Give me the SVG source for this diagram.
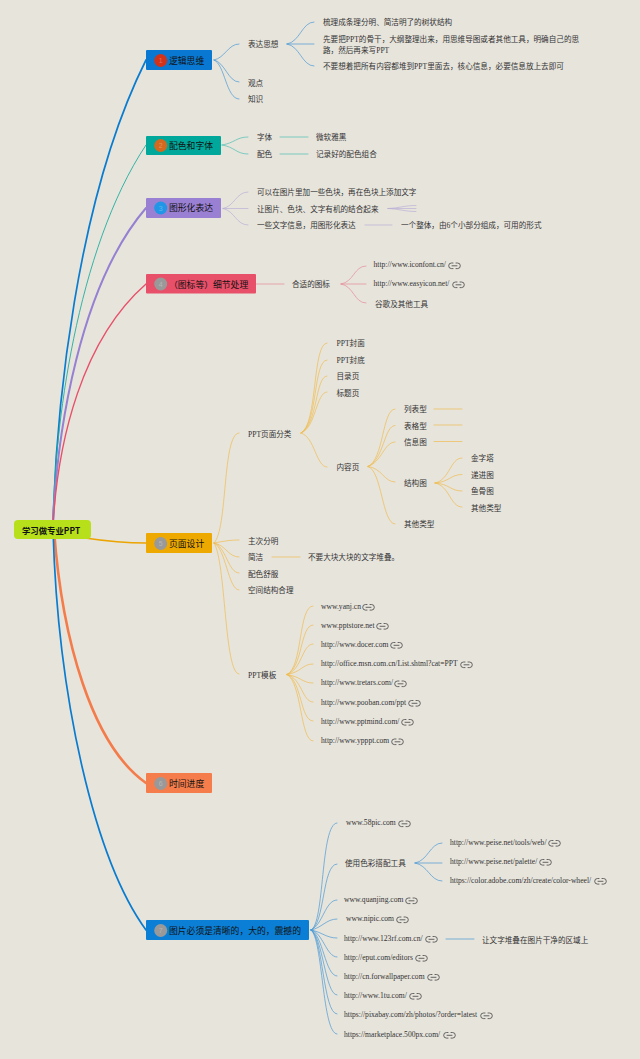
<svg xmlns="http://www.w3.org/2000/svg" width="640" height="1059" viewBox="0 0 640 1059">
<style>
text{font-family:"Liberation Serif","Noto Sans CJK SC",serif;fill:#333;font-size:7.6px;dominant-baseline:central}
.m{font-size:8.8px;fill:#111}
.r{font-size:8.4px;font-weight:bold;fill:#111;font-family:"Noto Sans CJK SC","Liberation Sans",sans-serif}
.n{font-size:7px;fill:#fff;fill-opacity:.3;text-anchor:middle;font-family:"Liberation Sans",sans-serif}
path{fill:none;stroke-linecap:round}
.b{stroke:#4a9ad4;stroke-width:.7}
.t{stroke:#4dbfb0;stroke-width:.7}
.p{stroke:#b9b0d6;stroke-width:.7}
.d{stroke:#e58a9a;stroke-width:.7}
.y{stroke:#efbc4f;stroke-width:.7}
.i{stroke:#444;stroke-width:.8}
</style>
<defs>
<g id="lk"><path class="i" d="M4,0H2.500a2.500,2.500 0 0 0 0,5.600H4M7,0H8.500a2.500,2.500 0 0 1 0,5.600H7M3,2.800H8"/></g>
</defs>
<rect width="640" height="1059" fill="#e7e4dc"/>
<g id="connectors">
<path d="M53,525C56,410 76,200 146,60" stroke="#0a7ccf" stroke-width="1.700"/>
<path d="M53,525C54,430 76,250 146,145" stroke="#1fae9f" stroke-width=".9"/>
<path d="M53,525C57,430 80,285 146,208" stroke="#9580d2" stroke-width="2"/>
<path d="M53,525C58,440 82,340 146,284" stroke="#e8506a" stroke-width="1.400"/>
<path d="M85,538C105,541 125,543 146,543" stroke="#eba400" stroke-width="1.700"/>
<path d="M54,530C62,640 92,745 146,783" stroke="#f47c4a" stroke-width="2.600"/>
<path d="M53,530C58,700 95,860 146,930" stroke="#0a7ccf" stroke-width="1.700"/>
<path class="b" d="M214,60C225,58 228,44 239,44M214,60C225,62 228,82 239,82M214,60C225,64 226,99 239,99"/>
<path class="b" d="M287,44C300,42 302,22 314,22M287,44H314M287,44C300,46 302,66 314,66"/>
<path class="b" d="M311,930C325,925 320,823 337,823M311,930C325,925 322,864 337,864M311,930C323,925 325,900 337,900M311,930C322,928 326,919 337,919M311,930C322,932 326,938 337,938M311,930C323,932 326,957 337,957M311,930C323,934 325,976 337,976M311,930C323,936 325,995 337,995M311,930C323,936 323,1014 337,1014M311,930C323,938 322,1034 337,1034"/>
<path class="b" d="M415,863C428,861 430,843 442,843M415,863H442M415,863C428,865 430,881 442,881M446,939H474"/>
<path class="t" d="M222,145C235,143 236,137 248,137M222,145C235,147 236,154 248,154M280,137H308M280,154H308"/>
<path class="p" d="M223,208.500C235,206 236,192 248,192M223,208.500H248M223,208.500C235,211 236,225 248,225M388,208.500C400,208 404,205.500 416,205.500M388,208.500H416M388,208.500C400,209 404,211.500 416,211.500M365,225H392"/>
<path class="d" d="M256,284H284M341,284C354,282 354,266 366,266M341,284H366M341,284C354,286 354,303 366,303"/>
<path class="y" d="M214,543C228,530 222,433 239,433M214,543C225,541 230,540 239,540M214,543C226,545 228,557 239,557M214,543C226,546 228,573 239,573M214,543C226,548 228,590 239,590M214,543C226,560 224,674 239,674"/>
<path class="y" d="M301,433C318,425 312,343 327,343M301,433C318,425 313,360 327,360M301,433C318,425 315,376 327,376M301,433C316,428 316,392 327,392M301,433C315,437 316,467 327,467"/>
<path class="y" d="M368,466.500C384,460 382,409 395,409M368,466.500C384,460 384,425.500 395,425.500M368,466.500C382,462 384,442 395,442M368,466.500C382,468 384,482 395,482M368,466.500C382,470 382,524 395,524M434,409H462M434,425H462M434,441.500H462"/>
<path class="y" d="M435,483C450,480 450,458 462,458M435,483C450,482 450,474.500 462,474.500M435,483C450,484 450,491 462,491M435,483C450,486 450,507 462,507M272,557H300"/>
<path class="y" d="M287,674.500C303,668 298,606 313,606M287,674.500C303,668 300,625 313,625M287,674.500C302,670 302,644 313,644M287,674.500C302,672 302,664 313,664M287,674.500C302,677 302,683 313,683M287,674.500C302,678 302,702 313,702M287,674.500C302,680 300,721 313,721M287,674.500C302,682 300,741 313,741"/>
</g>
<g id="root"><rect x="14" y="520" width="77" height="19" rx="4" fill="#b7e01a"/><text class="r" x="22" y="530">学习做专业PPT</text></g>
<g id="node1"><rect x="146" y="50" width="66" height="20" rx="1" fill="#0978d2"/><circle cx="160.700" cy="60.500" r="6.500" fill="#d1321a"/><text class="n" x="160.700" y="60.500">1</text><text class="m" x="169" y="60.500">逻辑思维</text></g>
<g id="node2"><rect x="146" y="136" width="75" height="19" rx="1" fill="#00a89c"/><circle cx="160.700" cy="145.500" r="6.500" fill="#d2691e"/><text class="n" x="160.700" y="145.500">2</text><text class="m" x="169" y="145.500">配色和字体</text></g>
<g id="node3"><rect x="146" y="198" width="75" height="20" rx="1" fill="#9a80d3"/><circle cx="160.700" cy="208" r="6.500" fill="#2196e6"/><text class="n" x="160.700" y="208">3</text><text class="m" x="169" y="208">图形化表达</text></g>
<g id="node4"><rect x="146" y="274" width="110" height="19.500" rx="1" fill="#e84f68"/><circle cx="160.700" cy="284" r="6.500" fill="#999"/><text class="n" x="160.700" y="284">4</text><text class="m" x="169" y="284.500">（图标等）细节处理</text></g>
<g id="node5"><rect x="146" y="533" width="66" height="20" rx="1" fill="#eda900"/><circle cx="160.700" cy="543.500" r="6.500" fill="#999"/><text class="n" x="160.700" y="543.500">5</text><text class="m" x="169" y="543.500">页面设计</text></g>
<g id="node6"><rect x="146" y="773" width="66" height="20" rx="1" fill="#f57d4b"/><circle cx="160.700" cy="783.500" r="6.500" fill="#999"/><text class="n" x="160.700" y="783.500">6</text><text class="m" x="169" y="783.500">时间进度</text></g>
<g id="node7"><rect x="146" y="920" width="163" height="20" rx="1" fill="#0b7fd6"/><circle cx="160.700" cy="930.500" r="6.500" fill="#999"/><text class="n" x="160.700" y="930.500">7</text><text class="m" x="169" y="930.500">图片必须是清晰的，大的，震撼的</text></g>
<g id="labels1">
<text x="248" y="44.500">表达思想</text><text x="323" y="22.500">梳理成条理分明、简洁明了的树状结构</text><text x="323" y="39">先要把PPT的骨干，大纲整理出来，用思维导图或者其他工具，明确自己的思</text><text x="323" y="50">路，然后再来写PPT</text><text x="323" y="66.500">不要想着把所有内容都堆到PPT里面去，核心信息，必要信息放上去即可</text><text x="248" y="83">观点</text><text x="248" y="99">知识</text>
</g>
<g id="labels2"><text x="257" y="137.500">字体</text><text x="257" y="154">配色</text><text x="316" y="137.500">微软雅黑</text><text x="316" y="154">记录好的配色组合</text></g>
<g id="labels3"><text x="257" y="192.500">可以在图片里加一些色块，再在色块上添加文字</text><text x="257" y="209">让图片、色块、文字有机的结合起来</text><text x="257" y="225.500">一些文字信息，用图形化表达</text><text x="401" y="225.500">一个整体，由6个小部分组成，可用的形式</text></g>
<g id="labels4"><text x="292" y="284.500">合适的图标</text><text x="373.500" y="264.500">http://www.iconfont.cn/</text><use href="#lk" x="449" y="263"/><text x="373.500" y="283.500">http://www.easyicon.net/</text><use href="#lk" x="453" y="282"/><text x="375" y="304">谷歌及其他工具</text></g>
<g id="labels5">
<text x="248" y="434">PPT页面分类</text><text x="336.500" y="343.500">PPT封面</text><text x="336.500" y="360">PPT封底</text><text x="336.500" y="376.500">目录页</text><text x="336.500" y="393">标题页</text><text x="336.500" y="467">内容页</text>
<text x="404" y="409.500">列表型</text><text x="404" y="426">表格型</text><text x="404" y="442">信息图</text><text x="404" y="483.500">结构图</text><text x="404" y="524.500">其他类型</text>
<text x="471" y="458.500">金字塔</text><text x="471" y="475">递进图</text><text x="471" y="491.500">鱼骨图</text><text x="471" y="508">其他类型</text>
<text x="248" y="541">主次分明</text><text x="248" y="557.500">简洁</text><text x="308" y="557.500">不要大块大块的文字堆叠。</text><text x="248" y="574">配色舒服</text><text x="248" y="590.500">空间结构合理</text><text x="248" y="675">PPT模板</text>
<text x="321" y="606">www.yanj.cn</text><use href="#lk" x="363" y="604.500"/>
<text x="321" y="625">www.pptstore.net</text><use href="#lk" x="377" y="623.500"/>
<text x="321" y="644">http://www.docer.com</text><use href="#lk" x="391" y="642.500"/>
<text x="321" y="663">http://office.msn.com.cn/List.shtml?cat=PPT</text><use href="#lk" x="461" y="662"/>
<text x="321" y="682.500">http://www.tretars.com/</text><use href="#lk" x="395" y="681"/>
<text x="321" y="702">http://www.pooban.com/ppt</text><use href="#lk" x="409" y="700.500"/>
<text x="321" y="721">http://www.pptmind.com/</text><use href="#lk" x="402" y="719.500"/>
<text x="321" y="740.500">http://www.ypppt.com</text><use href="#lk" x="392" y="739"/>
</g>
<g id="labels7">
<text x="346" y="822.700">www.58pic.com</text><use href="#lk" x="399" y="821"/>
<text x="345" y="863.700">使用色彩搭配工具</text>
<text x="450" y="842">http://www.peise.net/tools/web/</text><use href="#lk" x="549" y="840.500"/>
<text x="450" y="861">http://www.peise.net/palette/</text><use href="#lk" x="540" y="859.500"/>
<text x="450" y="880">https://color.adobe.com/zh/create/color-wheel/</text><use href="#lk" x="595" y="878.500"/>
<text x="344" y="899.700">www.quanjing.com</text><use href="#lk" x="406" y="898"/>
<text x="346" y="918.700">www.nipic.com</text><use href="#lk" x="397" y="917"/>
<text x="344" y="938">http://www.123rf.com.cn/</text><use href="#lk" x="426" y="936.500"/>
<text x="482" y="940">让文字堆叠在图片干净的区域上</text>
<text x="344" y="957">http://eput.com/editors</text><use href="#lk" x="416" y="955.500"/>
<text x="344" y="976">http://cn.forwallpaper.com</text><use href="#lk" x="428" y="974.500"/>
<text x="344" y="995">http://www.1tu.com/</text><use href="#lk" x="410" y="993.500"/>
<text x="344" y="1014.700">https://pixabay.com/zh/photos/?order=latest</text><use href="#lk" x="481" y="1013"/>
<text x="344" y="1034">https://marketplace.500px.com/</text><use href="#lk" x="444" y="1032.500"/>
</g>
</svg>
